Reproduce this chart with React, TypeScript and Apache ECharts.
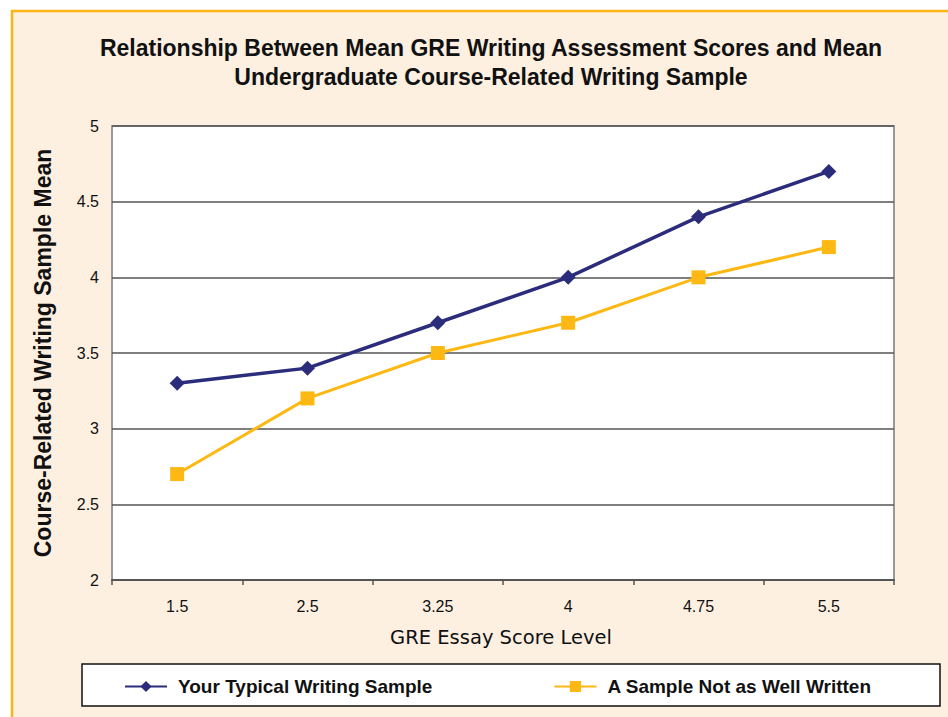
import React, { useEffect, useRef } from "react";
import * as echarts from "echarts";

const categories = ["1.5", "2.5", "3.25", "4", "4.75", "5.5"];
const typicalSample = [3.3, 3.4, 3.7, 4.0, 4.4, 4.7];
const notWellWritten = [2.7, 3.2, 3.5, 3.7, 4.0, 4.2];
const seriesNames = ["Your Typical Writing Sample", "A Sample Not as Well Written"];
const titleText = "Relationship Between Mean GRE Writing Assessment Scores and Mean\nUndergraduate Course-Related Writing Sample";
const xAxisName = "GRE Essay Score Level";
const yAxisName = "Course-Related Writing Sample Mean";

const NAVY = "#2B2C7C";
const YELLOW = "#FDB813";
const BG = "#FDF0E1";

export default function App() {
  const ref = useRef<HTMLDivElement>(null);
  useEffect(() => {
    if (!ref.current) return;
    const chart = echarts.init(ref.current, null, { renderer: "svg" });
    chart.setOption({
      animation: false,
      backgroundColor: "#ffffff",
      textStyle: { fontFamily: "Liberation Sans, Arial, sans-serif" },
      graphic: [
        {
          type: "rect",
          z: -10,
          silent: true,
          shape: { x: 12, y: 11, width: 960, height: 730 },
          style: { fill: BG, stroke: "#FDB515", lineWidth: 2.5 },
        },
        {
          type: "rect",
          z: -5,
          silent: true,
          shape: { x: 82, y: 664, width: 858, height: 42 },
          style: { fill: "#ffffff", stroke: "#111111", lineWidth: 1.5 },
        },
        {
          type: "text",
          x: 501,
          y: 637,
          style: {
            text: xAxisName,
            fill: "#111111",
            font: "19.5px 'DejaVu Sans', sans-serif",
            align: "center",
            verticalAlign: "middle",
          },
        },
      ],
      title: {
        text: titleText,
        left: 491,
        textAlign: "center",
        top: 33,
        padding: 0,
        textStyle: {
          fontSize: 23,
          fontWeight: "bold",
          color: "#111111",
          lineHeight: 29,
          fontFamily: "Liberation Sans, Arial, sans-serif",
        },
      },
      legend: {
        left: 124,
        top: 677,
        padding: 0,
        itemWidth: 42,
        itemHeight: 14,
        itemGap: 121,
        textStyle: { fontSize: 19, fontWeight: "bold", color: "#111111", padding: [0, 0, 0, 6] },
        data: seriesNames,
      },
      grid: {
        left: 112,
        top: 126,
        right: 54,
        bottom: 137,
        show: true,
        backgroundColor: "#ffffff",
        borderColor: "#999999",
        borderWidth: 2,
      },
      xAxis: {
        type: "category",
        data: categories,
        boundaryGap: true,
        axisLine: { show: true, lineStyle: { color: "#555555", width: 2 } },
        axisTick: { show: true, length: 5, lineStyle: { color: "#555555", width: 1.5 } },
        axisLabel: { fontSize: 16, color: "#111111", margin: 18 },
      },
      yAxis: {
        type: "value",
        min: 2,
        max: 5,
        interval: 0.5,
        name: yAxisName,
        nameLocation: "middle",
        nameGap: 58,
        nameTextStyle: { fontSize: 23, fontWeight: "bold", color: "#111111" },
        axisLine: { show: false },
        axisTick: { show: false },
        axisLabel: { fontSize: 16, color: "#111111", margin: 13 },
        splitLine: { show: true, lineStyle: { color: "#555555", width: 1.5 } },
      },
      series: [
        {
          name: seriesNames[0],
          type: "line",
          data: typicalSample,
          symbol: "diamond",
          symbolSize: 15,
          itemStyle: { color: NAVY },
          lineStyle: { color: NAVY, width: 3.5 },
          z: 3,
        },
        {
          name: seriesNames[1],
          type: "line",
          data: notWellWritten,
          symbol: "rect",
          symbolSize: 14,
          itemStyle: { color: YELLOW },
          lineStyle: { color: YELLOW, width: 3 },
          z: 2,
        },
      ],
    });
    return () => chart.dispose();
  }, []);
  return (
    <div
      ref={ref}
      style={{ position: "absolute", left: 0, top: 0, width: 948, height: 717 }}
    />
  );
}
